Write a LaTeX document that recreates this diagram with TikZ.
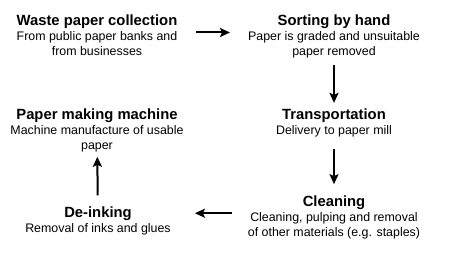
\documentclass[tikz,border=0pt]{standalone}
\usepackage{fontspec}
\setmainfont{Liberation Sans}
\usetikzlibrary{arrows.meta}
\definecolor{textcol}{HTML}{000000}

\tikzset{
	stepnode/.style={align=center,inner sep=0pt,anchor=base,text=textcol,font=\fontsize{12.4}{15.2}\selectfont},
	arr/.style={draw=textcol,line width=2pt,-{Stealth[length=10pt,width=9pt,inset=2pt]}}
}

\begin{document}
\begin{tikzpicture}[x=1pt,y=-1pt]
\useasboundingbox (0,0) rectangle (470,253);
% last line baseline of each step
\foreach \id/\px/\py/\title/\desc in {
	waste/97/56/Waste paper collection/{From public paper banks and\\from businesses},
	sort/334/55.5/Sorting by hand/{Paper is graded and unsuitable\\paper removed},
	trans/334/135/Transportation/{Delivery to paper mill},
	clean/334/236.5/Cleaning/{Cleaning, pulping and removal\\of other materials (e.g. staples)},
	deink/98/232.5/De-inking/{Removal of inks and glues},
	paper/97/150/Paper making machine/{Machine manufacture of usable\\paper}%
	}{
	\node[stepnode] (\id) at (\px,\py) {{\fontsize{14.8}{15.5}\selectfont\bfseries \title}\\\desc};
	}
\draw[arr,shorten <=18pt,shorten >=18pt] ([yshift=3pt]waste.east) -- ([yshift=3pt]waste.east -| sort.west);
\draw[arr,shorten <=7pt,shorten >=6pt] (sort) -- (trans);
\draw[arr,shorten <=11pt,shorten >=11pt] (trans) -- (clean);
\draw[arr,shorten <=16pt,shorten >=24pt] ([yshift=4pt]clean.west) -- ([yshift=4pt]clean.west -| deink.east);
\draw[arr,shorten <=11pt,shorten >=4pt] (deink) -- (paper);
\end{tikzpicture}
\end{document}
